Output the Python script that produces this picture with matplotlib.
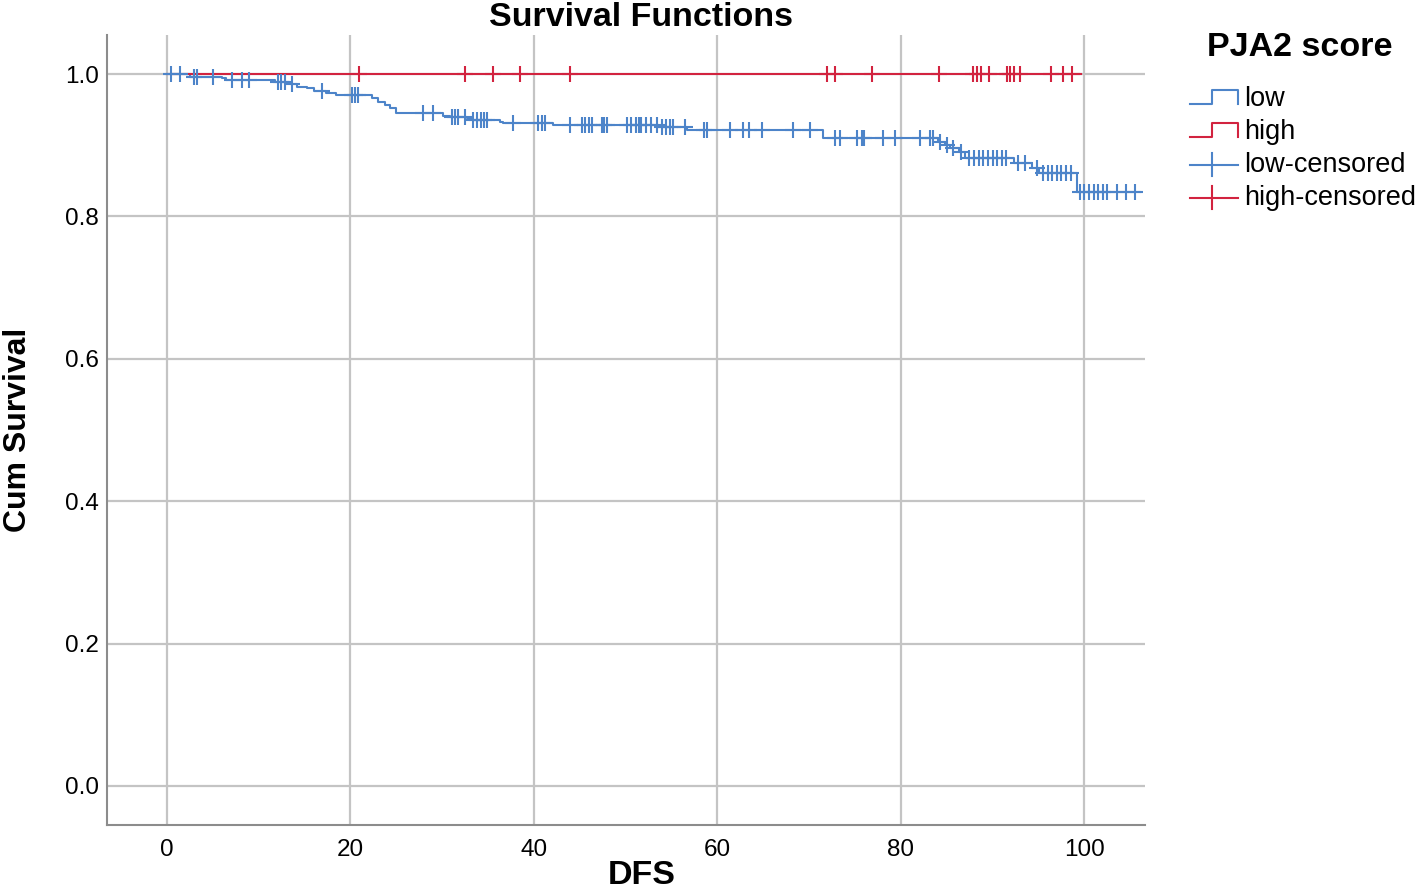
import matplotlib
matplotlib.use('Agg')
import matplotlib.pyplot as plt
import numpy as np
from matplotlib.lines import Line2D
from matplotlib.legend_handler import HandlerBase

plt.rcParams['font.family'] = ['Liberation Sans', 'DejaVu Sans']

# low PJA2 score: step points (time, cum survival)
low_t = [0, 2.5, 6.0, 6.5, 11.8, 13.4, 14.2, 15.3, 16.1, 17.4, 18.5, 22.4, 23.0, 23.8,
         24.3, 25.0, 30.1, 30.9, 32.7, 33.3, 36.3, 36.7, 42.1, 53.5, 56.7, 71.5, 84.0,
         84.8, 85.4, 86.3, 87.0, 92.3, 94.3, 95.0, 99.2]
low_s = [1.0, 0.996, 0.994, 0.992, 0.989, 0.986, 0.982, 0.980, 0.976, 0.974, 0.970,
         0.966, 0.961, 0.956, 0.952, 0.945, 0.941, 0.940, 0.938, 0.935, 0.933, 0.931,
         0.928, 0.926, 0.921, 0.910, 0.905, 0.900, 0.896, 0.891, 0.882, 0.875, 0.868,
         0.861, 0.835]
low_end = 106.1
low_cens = [0.5, 1.4, 3.0, 3.3, 5.0, 7.1, 8.2, 9.0, 12.1, 12.5, 12.9, 13.7, 16.9, 20.2,
            20.5, 20.8, 27.9, 29.0, 31.1, 31.4, 31.7, 32.5, 33.4, 33.8, 34.2, 34.6, 34.9,
            37.7, 40.5, 40.9, 41.2, 43.9, 45.3, 45.6, 46.0, 46.3, 47.4, 47.7, 48.0, 50.2,
            50.6, 51.1, 51.5, 51.7, 52.2, 52.8, 53.4, 54.0, 54.4, 54.8, 55.2, 56.5, 58.5,
            58.9, 61.4, 62.8, 63.4, 64.9, 68.2, 70.1, 72.8, 73.4, 75.2, 75.8, 76.0, 78.1,
            79.4, 82.1, 83.2, 83.5, 84.3, 85.0, 85.7, 86.6, 87.4, 88.0, 88.5, 89.0, 89.5,
            90.0, 90.5, 91.0, 91.5, 92.8, 93.5, 94.8, 95.5, 96.0, 96.5, 97.0, 97.5, 98.0,
            98.5, 99.5, 100.0, 100.5, 101.0, 101.5, 102.0, 102.5, 103.5, 104.5, 105.5]

# high PJA2 score: no events
high_t = [0]
high_s = [1.0]
high_end = 99.6
high_cens = [21.0, 32.5, 35.6, 38.5, 43.9, 72.0, 72.8, 76.9, 84.2, 87.9, 88.3, 88.7,
             89.6, 91.6, 91.9, 92.3, 93.0, 96.4, 97.7, 98.7]

xticks = [0, 20, 40, 60, 80, 100]
yticks = [0.0, 0.2, 0.4, 0.6, 0.8, 1.0]

blue = '#4d84c9'
red = '#d2233f'


def surv_at(t, s, x):
    idx = np.searchsorted(t, x, side='right') - 1
    return np.asarray(s)[idx]


fig = plt.figure(figsize=(14.18, 8.9), dpi=100)
ax = fig.add_axes([107 / 1418, 1 - 825 / 890, (1145 - 107) / 1418, (825 - 35) / 890])

for t, s, end, cens, c in [(low_t, low_s, low_end, low_cens, blue),
                           (high_t, high_s, high_end, high_cens, red)]:
    tt = list(t) + [end]
    ss = list(s) + [s[-1]]
    ax.step(tt, ss, where='post', color=c, lw=1.5, zorder=3)
    ax.plot(cens, surv_at(t, s, cens), ls='none', marker='+', ms=11, mew=1.5,
            color=c, zorder=4)

ax.set_xlim(-6.5, 106.6)
ax.set_ylim(-0.055, 1.055)
ax.set_xticks(xticks)
ax.set_xticklabels([str(v) for v in xticks])
ax.set_yticks(yticks)
ax.set_yticklabels(['%.1f' % v for v in yticks])
ax.tick_params(axis='y', length=0, labelsize=17.5, pad=6)
ax.tick_params(axis='x', length=0, labelsize=17.5, pad=10)
ax.grid(True, color='#c4c4c4', lw=1.6)
ax.set_axisbelow(True)
for side in ['top', 'right']:
    ax.spines[side].set_visible(False)
for side in ['left', 'bottom']:
    ax.spines[side].set_color('#8c8c8c')
    ax.spines[side].set_linewidth(1.5)

fig.text(641 / 1418, 1 - 17 / 890, 'Survival Functions', ha='center', va='center',
         fontsize=24.5, fontweight='bold')
fig.text(642 / 1418, 1 - 875 / 890, 'DFS', ha='center', va='center',
         fontsize=24.5, fontweight='bold')
fig.text(18 / 1418, 1 - 430 / 890, 'Cum Survival', ha='center', va='center',
         rotation=90, fontsize=23, fontweight='bold')
fig.text(1207 / 1418, 1 - 48 / 890, 'PJA2 score', ha='left', va='center',
         fontsize=24.5, fontweight='bold')


class StepHandler(HandlerBase):
    def create_artists(self, legend, orig_handle, xdescent, ydescent, width, height,
                       fontsize, trans):
        x0 = -xdescent
        y0 = -ydescent + height * 0.1
        y1 = -ydescent + height * 0.85
        xs = [x0, x0 + width * 0.45, x0 + width * 0.45, x0 + width, x0 + width]
        ys = [y0, y0, y1, y1, y0]
        ln = Line2D(xs, ys, color=orig_handle.get_color(), lw=1.5, transform=trans)
        return [ln]


class CensHandler(HandlerBase):
    def create_artists(self, legend, orig_handle, xdescent, ydescent, width, height,
                       fontsize, trans):
        x0 = -xdescent
        ym = -ydescent + height * 0.4
        h = Line2D([x0, x0 + width], [ym, ym], color=orig_handle.get_color(), lw=1.5,
                   transform=trans)
        v = Line2D([x0 + width * 0.45] * 2, [ym - height * 0.6, ym + height * 0.6],
                   color=orig_handle.get_color(), lw=1.5, transform=trans)
        return [h, v]


h_low = Line2D([], [], color=blue)
h_high = Line2D([], [], color=red)
h_lowc = Line2D([], [], color=blue)
h_highc = Line2D([], [], color=red)
fig.legend([h_low, h_high, h_lowc, h_highc],
           ['low', 'high', 'low-censored', 'high-censored'],
           handler_map={h_low: StepHandler(), h_high: StepHandler(),
                        h_lowc: CensHandler(), h_highc: CensHandler()},
           loc='upper left', bbox_to_anchor=(1190 / 1418, 1 - 86 / 890),
           frameon=False, fontsize=19.5, handlelength=1.78, handletextpad=0.22,
           labelspacing=0.26, borderaxespad=0, borderpad=0)

fig.savefig('out.png', dpi=100)
